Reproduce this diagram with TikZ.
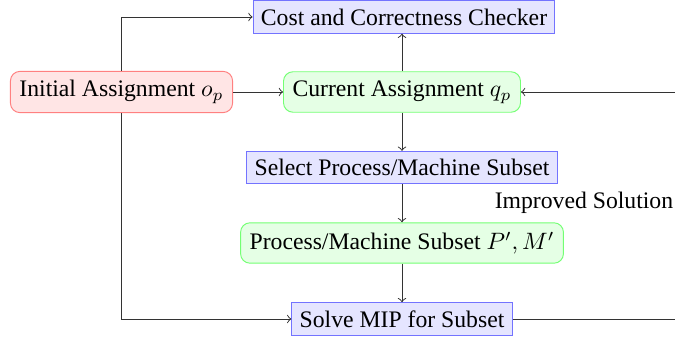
\documentclass[tikz,border=0pt]{standalone}
\usepackage{fontspec}
\setmainfont{Liberation Serif}
\usetikzlibrary{calc}
\tikzset{
  blockbox/.style={draw=blue!55, fill=blue!10, inner sep=3.3pt},
  statebox/.style={draw=green!55, fill=green!10, rounded corners=4pt, inner sep=3.8pt},
  startbox/.style={draw=red!50, fill=red!10, rounded corners=4pt, inner sep=3.8pt},
  flow/.style={->, draw=black!80, line width=0.4pt}
}
\begin{document}
\begin{tikzpicture}[x=0.422pt, y=-0.422pt]
\useasboundingbox (0,0) rectangle (675,339);

\node[blockbox] (check) at (404,17) {Cost and Correctness Checker};
\node[statebox] (cur) at (402,92) {Current Assignment $q_p$};
\node[startbox] (init) at (121.5,92) {Initial Assignment $o_p$};
\node[blockbox] (sel) at (402,167.5) {Select Process/Machine Subset};
\node[statebox] (sub) at (402,243) {Process/Machine Subset $P', M'$};
\node[blockbox] (mip) at (402,319) {Solve MIP for Subset};

\coordinate (rb) at (676,319);
\coordinate (rt) at (676,92);

\draw[flow] (init) -- (cur);
\draw[flow] (cur.north) -- (cur.north |- check.south);
\draw[flow] (cur) -- (sel);
\draw[flow] (sel) -- (sub);
\draw[flow] (sub) -- (mip);
\draw[flow] (init.north) |- (check.west);
\draw[flow] (init.south) |- (mip.west);
\draw[flow] (mip.east) -- (rb) -- node[left, pos=0.51, inner sep=1pt] {Improved Solution} (rt) -- (cur.east);
\end{tikzpicture}
\end{document}
